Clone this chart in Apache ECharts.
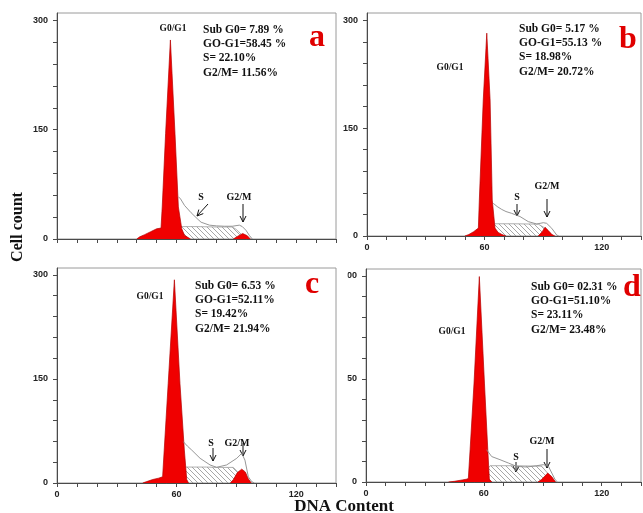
<!DOCTYPE html>
<html>
<head>
<meta charset="utf-8">
<script src="https://cdn.jsdelivr.net/npm/echarts@6/dist/echarts.min.js"></script>
<style>
  html, body { margin: 0; padding: 0; background: #fff; }
  #chart { width: 643px; height: 513px; }
</style>
</head>
<body>
<div id="chart"></div>
<script>
// Axis ticks and labels (DNA channel / cell count)
const dnaTicks = [0, 10, 20, 30, 40, 50, 60, 70, 80, 90, 100, 110, 120, 130, 140];
const dnaLabels = [0, 60, 120];
const countTicks = [0, 30, 60, 90, 120, 150, 180, 210, 240, 270, 300];
const countLabels = [0, 150, 300];

// Panel a: [DNA channel, cell count]
const g1A  = [[40,0],[41.5,3],[44,6],[47,10],[50,14],[52.2,15],[52.8,44],[54.5,145],[56.9,273],[59.2,145],[60.9,44],[62.6,14],[64,5],[67,0]];
const sA   = [[57,0],[59,6],[61.5,17],[70,17],[80,16.5],[88,16.5],[90,13],[93,5],[95,0]];
const g2A  = [[88.5,0],[90.5,3.5],[93.2,7.5],[95.5,4.5],[97,0]];
const fitA = [[60.9,58],[62,55],[64,46],[67.3,36],[70.7,27],[72.3,23],[76.5,19],[80,18],[84,17.5],[88,17.5],[91.5,19],[93,17],[94.8,12],[96.5,5],[98,0]];
const statsA = ['Sub G0= 7.89 %', 'GO-G1=58.45 %', 'S= 22.10%', 'G2/M= 11.56%'];

// Panel b
const g1B  = [[50,0],[52,2],[54.5,6],[56.9,11],[57.4,50],[59.4,189],[61.2,282],[62.9,189],[64,50],[65.4,11],[67,5],[69,2],[71,0]];
const sB   = [[58,0],[62,6],[65.4,17],[75,17],[87.5,16.5],[91,11],[95,0]];
const g2B  = [[87.5,0],[89.5,6],[91,12],[92.5,8],[94.5,2],[96,0]];
const fitB = [[64.5,45.5],[66.5,41],[68.8,37],[71,34],[73.9,31.5],[78.2,27],[82.4,20],[86.7,16.7],[90.1,18.5],[91.8,17.6],[94.4,10.7],[96.9,1.4],[98,0]];
const statsB = ['Sub G0= 5.17 %', 'GO-G1=55.13 %', 'S= 18.98%', 'G2/M= 20.72%'];

// Panel c
const g1C  = [[43,0],[45,2],[48,5],[51,7],[53,9],[53.8,47.5],[55.8,143.6],[58.9,293],[61.7,143.6],[63.9,47.5],[65.1,5],[66,0]];
const sC   = [[55,0],[60,8],[64.4,23],[75,23],[80,22.5],[88.5,22.5],[92,12],[96,0]];
const g2C  = [[87,0],[88.5,5],[90.5,15],[92.7,20],[94.5,16],[96,6],[97.5,0]];
const fitC = [[63.4,59.5],[65.5,53],[67.6,47.5],[71.8,35.6],[76.8,26],[80.1,22.6],[85.1,26],[90.2,35.6],[92.7,42.8],[94.3,33],[96,9],[97.7,2],[99,0]];
const statsC = ['Sub G0= 6.53 %', 'GO-G1=52.11%', 'S= 19.42%', 'G2/M= 21.94%'];

// Panel d
const g1D  = [[42,0],[45,1],[49,3],[51,4],[52.1,5],[53,47],[55,144],[57.7,299],[60.3,144],[62,47],[62.8,4],[64,0]];
const sD   = [[55,0],[59,8],[63.2,23.7],[75,23.7],[89.4,23],[93,11],[96,0]];
const g2D  = [[87.5,0],[89.5,4],[92.5,13],[94.5,8],[96.5,0]];
const fitD = [[61.4,47],[64,37],[68.2,32.5],[72.5,27.6],[76.7,22.7],[81.8,21.8],[86.9,23.7],[90.3,25.2],[92.9,22.7],[94.6,13],[96.3,3.3],[97.5,0]];
const statsD = ['Sub G0= 02.31 %', 'GO-G1=51.10%', 'S= 23.11%', 'G2/M= 23.48%'];

const panelLetters = ['a', 'b', 'c', 'd'];

const RED = '#f00000';
const SERIF = '"Liberation Serif", "Times New Roman", serif';
const SANS = '"Liberation Sans", Arial, sans-serif';

// Diagonal hatch used for the S-phase area
function makeHatch() {
  const n = 5;
  const c = document.createElement('canvas');
  c.width = n; c.height = n;
  const ctx = c.getContext('2d');
  ctx.strokeStyle = '#8a8a8a';
  ctx.lineWidth = 0.75;
  ctx.beginPath();
  ctx.moveTo(-1, -1); ctx.lineTo(n + 1, n + 1);
  ctx.moveTo(-1, n - 1); ctx.lineTo(1, n + 1);
  ctx.moveTo(n - 1, -1); ctx.lineTo(n + 1, 1);
  ctx.stroke();
  return c;
}
const hatch = makeHatch();

const grids = [
  { left: 57,  top: 13,  width: 279, height: 226 },
  { left: 367, top: 13,  width: 274, height: 223 },
  { left: 57,  top: 268, width: 279, height: 215 },
  { left: 366, top: 269, width: 275, height: 213 }
];

const panels = [
  { s: sA, g1: g1A, g2: g2A, fit: fitA },
  { s: sB, g1: g1B, g2: g2B, fit: fitB },
  { s: sC, g1: g1C, g2: g2C, fit: fitC },
  { s: sD, g1: g1D, g2: g2D, fit: fitD }
];

const axisColor = '#4a4a4a';
const xAxes = grids.map((g, i) => ({
  gridIndex: i, type: 'value', min: 0, max: 140,
  axisLine: { show: true, onZero: false, lineStyle: { color: axisColor, width: 1 } },
  axisTick: { show: true, customValues: dnaTicks, length: 4, lineStyle: { color: axisColor } },
  axisLabel: { show: i !== 0, customValues: dnaLabels, margin: 7,
               fontFamily: SANS, fontWeight: 'bold', fontSize: 9, color: '#222' },
  splitLine: { show: false }
}));
const yAxes = grids.map((g, i) => ({
  gridIndex: i, type: 'value', min: 0, max: 310,
  axisLine: { show: true, lineStyle: { color: axisColor, width: 1 } },
  axisTick: { show: true, customValues: countTicks, length: 4, lineStyle: { color: axisColor } },
  axisLabel: { show: true, customValues: countLabels, margin: 9,
               fontFamily: SANS, fontWeight: 'bold', fontSize: 9, color: '#222' },
  splitLine: { show: false }
}));

const series = [];
panels.forEach((p, i) => {
  const base = { type: 'line', xAxisIndex: i, yAxisIndex: i, showSymbol: false, symbol: 'none',
                 silent: true, animation: false };
  series.push(Object.assign({}, base, {
    name: 'S ' + panelLetters[i], data: p.s, z: 2,
    lineStyle: { color: '#9a9a9a', width: 0.8 },
    areaStyle: { color: { image: hatch, repeat: 'repeat' }, opacity: 1 }
  }));
  series.push(Object.assign({}, base, {
    name: 'G0/G1 ' + panelLetters[i], data: p.g1, z: 3,
    lineStyle: { color: '#b40000', width: 0.7 },
    areaStyle: { color: RED, opacity: 1 }
  }));
  series.push(Object.assign({}, base, {
    name: 'G2/M ' + panelLetters[i], data: p.g2, z: 3,
    lineStyle: { color: '#b40000', width: 0.7 },
    areaStyle: { color: RED, opacity: 1 }
  }));
  series.push(Object.assign({}, base, {
    name: 'Fit ' + panelLetters[i], data: p.fit, z: 4,
    lineStyle: { color: '#8a8a8a', width: 0.9 }
  }));
});

// Annotation helpers
function txt(x, y, text, size, extra) {
  const el = {
    type: 'text', x: x, y: y, z: 100, silent: true,
    style: { text: text, font: 'bold ' + size + 'px ' + SERIF, fill: '#111',
             align: 'center', verticalAlign: 'middle' }
  };
  if (extra && extra.style) Object.assign(el.style, extra.style);
  if (extra && extra.rotation !== undefined) el.rotation = extra.rotation;
  return el;
}
function arrow(x1, y1, x2, y2) {
  const dx = x2 - x1, dy = y2 - y1, len = Math.hypot(dx, dy);
  const ux = dx / len, uy = dy / len, h = 6, w = 3;
  const bx = x2 - ux * h, by = y2 - uy * h;
  return {
    type: 'group', z: 100, silent: true,
    children: [
      { type: 'line', shape: { x1: x1, y1: y1, x2: x2, y2: y2 },
        style: { stroke: '#111', lineWidth: 1 } },
      { type: 'polyline', shape: { points: [[bx - uy * w, by + ux * w], [x2, y2], [bx + uy * w, by - ux * w]] },
        style: { stroke: '#111', lineWidth: 1, fill: null } }
    ]
  };
}
function statsBlock(x, y, lines) {
  return lines.map((t, k) => txt(x, y + k * 14.2, t, 11.5, { style: { align: 'left' } }));
}
function letter(x, y, k) {
  return txt(x, y, panelLetters[k], 32, { style: { fill: '#e00000' } });
}

const graphic = [].concat(
  // phase statistics
  statsBlock(203, 30, statsA),
  statsBlock(519, 29, statsB),
  statsBlock(195, 286, statsC),
  statsBlock(531, 287, statsD),
  // panel letters
  [letter(317, 38, 0), letter(628, 40, 1), letter(312, 285, 2), letter(632, 288, 3)],
  // peak labels and arrows
  [
    txt(173, 29, 'G0/G1', 9.5), txt(201, 197, 'S', 10), txt(239, 197, 'G2/M', 10),
    arrow(208, 204, 197, 216), arrow(243, 204, 243, 222),

    txt(450, 68, 'G0/G1', 9.5), txt(517, 197, 'S', 10), txt(547, 186, 'G2/M', 10),
    arrow(517, 204, 517, 216), arrow(547, 199, 547, 217),

    txt(150, 297, 'G0/G1', 9.5), txt(211, 443, 'S', 10), txt(237, 443, 'G2/M', 10),
    arrow(213, 448, 213, 461), arrow(243, 443, 243, 456),

    txt(452, 332, 'G0/G1', 9.5), txt(516, 457, 'S', 10), txt(542, 441, 'G2/M', 10),
    arrow(516, 462, 516, 472), arrow(547, 449, 547, 468)
  ],
  // axis titles
  [
    txt(18, 227, 'Cell count', 16, { rotation: Math.PI / 2 }),
    txt(344, 507, 'DNA Content', 17)
  ],
  // edge of the lower-left panel overlapping the lower-right tick labels
  [
    { type: 'rect', z: 90, silent: true, shape: { x: 337, y: 262, width: 10.5, height: 228 },
      style: { fill: '#fff' } }
  ]
);

const chart = echarts.init(document.getElementById('chart'), null, { renderer: 'canvas' });
chart.setOption({
  backgroundColor: '#fff',
  animation: false,
  grid: grids.map(g => Object.assign({ show: true, borderColor: '#9a9a9a', borderWidth: 1,
                                       backgroundColor: '#fff', containLabel: false }, g)),
  xAxis: xAxes,
  yAxis: yAxes,
  series: series,
  graphic: graphic
});
</script>
</body>
</html>
